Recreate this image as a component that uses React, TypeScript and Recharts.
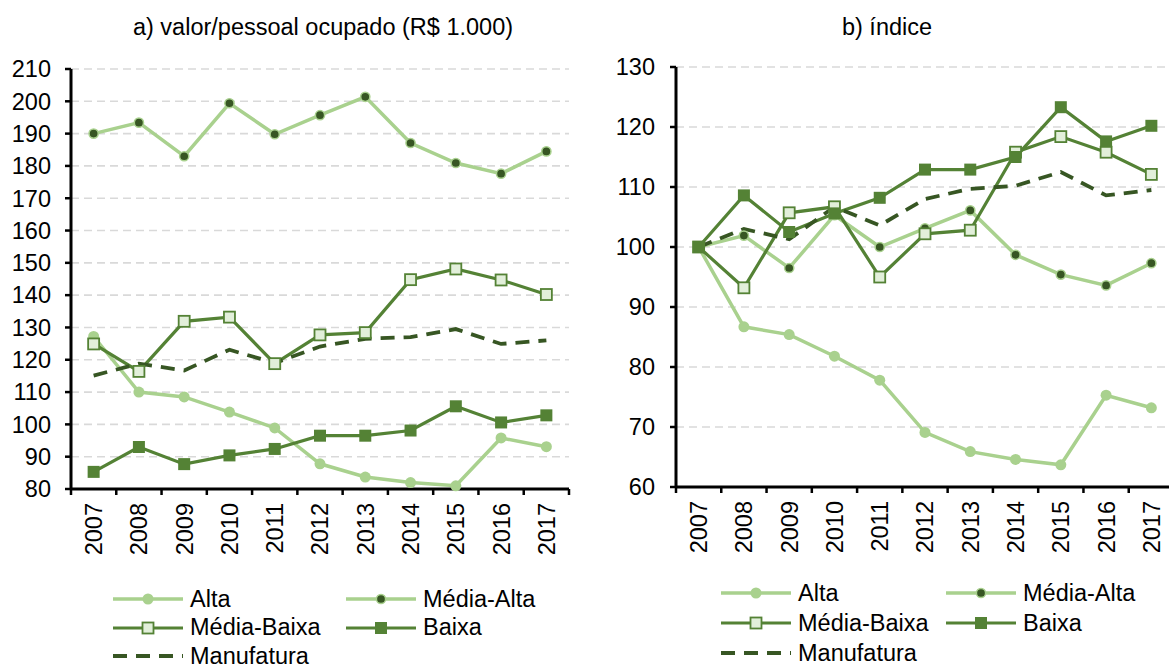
import React from "react";
import { LineChart, Line, XAxis, YAxis, CartesianGrid } from "recharts";

const years = ["2007", "2008", "2009", "2010", "2011", "2012", "2013", "2014", "2015", "2016", "2017"];

// a) valor/pessoal ocupado (R$ 1.000)
const altaA = [127.2, 110.0, 108.5, 103.8, 98.9, 87.8, 83.7, 82.0, 81.0, 95.8, 93.1];
const mediaAltaA = [190.0, 193.4, 183.0, 199.4, 189.8, 195.7, 201.4, 187.1, 180.9, 177.6, 184.5];
const mediaBaixaA = [124.9, 116.4, 131.9, 133.2, 118.8, 127.7, 128.4, 144.8, 148.1, 144.7, 140.2];
const baixaA = [85.3, 93.0, 87.7, 90.4, 92.4, 96.5, 96.5, 98.1, 105.6, 100.6, 102.8];
const manufA = [115.1, 118.8, 116.7, 123.1, 119.0, 124.1, 126.5, 127.0, 129.5, 124.9, 126.0];
const ticksA = [80, 90, 100, 110, 120, 130, 140, 150, 160, 170, 180, 190, 200, 210];

// b) índice
const altaB = [100, 86.7, 85.4, 81.8, 77.8, 69.1, 65.9, 64.6, 63.7, 75.3, 73.2];
const mediaAltaB = [100, 101.9, 96.5, 105.3, 100.0, 103.1, 106.1, 98.7, 95.4, 93.6, 97.3];
const mediaBaixaB = [100, 93.2, 105.7, 106.7, 95.0, 102.2, 102.8, 115.8, 118.4, 115.8, 112.1];
const baixaB = [100, 108.6, 102.5, 105.6, 108.2, 112.9, 112.9, 115.0, 123.3, 117.6, 120.2];
const manufB = [100, 103.0, 101.3, 106.7, 103.6, 108.0, 109.7, 110.2, 112.5, 108.6, 109.5];
const ticksB = [60, 70, 80, 90, 100, 110, 120, 130];

const seriesNames = ["Alta", "Média-Alta", "Média-Baixa", "Baixa", "Manufatura"];

const LIGHT = "#A9D18E";
const MID = "#548235";
const DARK = "#375623";
const PALE = "#E2EFDA";
const FONT = "'Liberation Sans', Arial, sans-serif";
const FS = 23.5;

function marker(name: string, cx: number, cy: number, key?: any) {
  if (name === "Alta") return <circle key={key} cx={cx} cy={cy} r={5.5} fill={LIGHT} />;
  if (name === "Média-Alta")
    return <circle key={key} cx={cx} cy={cy} r={4.6} fill={DARK} stroke={LIGHT} strokeWidth={1.5} />;
  if (name === "Média-Baixa")
    return <rect key={key} x={cx - 5.5} y={cy - 5.5} width={11} height={11} fill={PALE} stroke={MID} strokeWidth={1.8} />;
  if (name === "Baixa") return <rect key={key} x={cx - 6} y={cy - 6} width={12} height={12} fill={MID} />;
  return null;
}

const lineStyle: Record<string, { stroke: string; width: number; dash?: string }> = {
  "Alta": { stroke: LIGHT, width: 3.5 },
  "Média-Alta": { stroke: LIGHT, width: 3.5 },
  "Média-Baixa": { stroke: MID, width: 3.2 },
  "Baixa": { stroke: MID, width: 3.2 },
  "Manufatura": { stroke: DARK, width: 3.8, dash: "14 9" },
};

function XTick({ x, y, payload, index, step, count }: any) {
  const half = step / 2;
  return (
    <g>
      <line x1={x - half} x2={x - half} y1={y} y2={y + 6} stroke="#000" strokeWidth={2.5} />
      {index === count - 1 && (
        <line x1={x + half} x2={x + half} y1={y} y2={y + 6} stroke="#000" strokeWidth={2.5} />
      )}
      <text
        x={x}
        y={y + 14}
        dy="0.36em"
        textAnchor="end"
        transform={`rotate(-90 ${x} ${y + 14})`}
        fontSize={FS}
        fontFamily={FONT}
        fill="#000"
      >
        {payload.value}
      </text>
    </g>
  );
}

function Panel({ series, ticks, width, height, top, yWidth, plotW, tickMargin }: any) {
  const data = years.map((y, i) => {
    const row: any = { year: y };
    seriesNames.forEach((n, k) => (row[n] = series[k][i]));
    return row;
  });
  const step = plotW / years.length;
  return (
    <LineChart
      width={width}
      height={height}
      data={data}
      margin={{ top, right: width - yWidth - plotW, bottom: 0, left: 0 }}
    >
      <CartesianGrid vertical={false} stroke="#D9D9D9" strokeWidth={1.6} strokeDasharray="8 5" />
      <XAxis
        dataKey="year"
        height={70}
        interval={0}
        padding={{ left: step / 2, right: step / 2 }}
        tickLine={false}
        tickSize={0}
        tickMargin={0}
        axisLine={{ stroke: "#000", strokeWidth: 3 }}
        tick={(p: any) => <XTick {...p} step={step} count={years.length} />}
      />
      <YAxis
        width={yWidth}
        domain={[ticks[0], ticks[ticks.length - 1]]}
        ticks={ticks}
        interval={0}
        tickSize={6}
        tickMargin={tickMargin}
        axisLine={{ stroke: "#000", strokeWidth: 3 }}
        tickLine={{ stroke: "#000", strokeWidth: 2.5 }}
        tick={{ fontSize: FS, fontFamily: FONT, fill: "#000" }}
      />
      {seriesNames.map((n) => (
        <Line
          key={n}
          dataKey={n}
          type="linear"
          stroke={lineStyle[n].stroke}
          strokeWidth={lineStyle[n].width}
          strokeDasharray={lineStyle[n].dash}
          dot={n === "Manufatura" ? false : (p: any) => marker(n, p.cx, p.cy, p.index)}
          activeDot={false}
          isAnimationActive={false}
        />
      ))}
    </LineChart>
  );
}

function LegendBlock({ left, top, colGap, rowGap }: any) {
  return (
    <>
      {seriesNames.map((n, i) => {
        const s = lineStyle[n];
        return (
          <div
            key={n}
            style={{
              position: "absolute",
              left: left + (i % 2) * colGap,
              top: top + Math.floor(i / 2) * rowGap - 14,
              height: 28,
              display: "flex",
              alignItems: "center",
              fontFamily: FONT,
              fontSize: FS,
              color: "#000",
              whiteSpace: "nowrap",
            }}
          >
            <svg width={70} height={20} style={{ marginRight: 7 }}>
              <line x1={0} x2={70} y1={10} y2={10} stroke={s.stroke} strokeWidth={s.width} strokeDasharray={s.dash} />
              {marker(n, 35, 10)}
            </svg>
            <span>{n}</span>
          </div>
        );
      })}
    </>
  );
}

const titleStyle: React.CSSProperties = {
  position: "absolute",
  top: 14,
  fontFamily: FONT,
  fontSize: FS,
  color: "#000",
  whiteSpace: "nowrap",
  transform: "translateX(-50%)",
};

export default function App() {
  return (
    <div style={{ position: "absolute", left: 0, top: 0, width: 1169, height: 665, overflow: "hidden", background: "#fff" }}>
      <div style={{ ...titleStyle, left: 323 }}>a) valor/pessoal ocupado (R$ 1.000)</div>
      <div style={{ ...titleStyle, left: 887 }}>b) índice</div>

      <div style={{ position: "absolute", left: 0, top: 0 }}>
        <Panel
          series={[altaA, mediaAltaA, mediaBaixaA, baixaA, manufA]}
          ticks={ticksA}
          width={600}
          height={559}
          top={69}
          yWidth={71}
          plotW={498}
          tickMargin={14}
        />
      </div>
      <div style={{ position: "absolute", left: 600, top: 0 }}>
        <Panel
          series={[altaB, mediaAltaB, mediaBaixaB, baixaB, manufB]}
          ticks={ticksB}
          width={580}
          height={557}
          top={67}
          yWidth={76}
          plotW={498}
          tickMargin={15}
        />
      </div>

      <LegendBlock left={113} top={599} colGap={233} rowGap={28.5} />
      <LegendBlock left={721} top={593} colGap={225} rowGap={30} />
    </div>
  );
}
